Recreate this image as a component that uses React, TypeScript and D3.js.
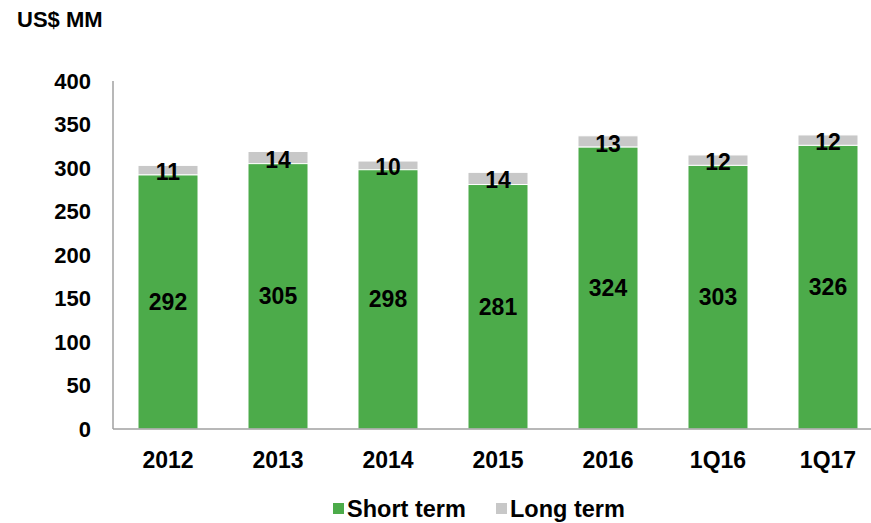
import * as d3 from "d3";
import React, { useEffect, useRef } from "react";

const categories = ["2012", "2013", "2014", "2015", "2016", "1Q16", "1Q17"];
const shortTerm = [292, 305, 298, 281, 324, 303, 326];
const longTerm = [11, 14, 10, 14, 13, 12, 12];
const yTicks = [0, 50, 100, 150, 200, 250, 300, 350, 400];

const GREEN = "#4cab4a";
const GRAY = "#c8c8c8";
const FONT = "'Liberation Sans', Arial, sans-serif";

export default function App() {
  const ref = useRef<SVGSVGElement | null>(null);

  useEffect(() => {
    const svg = d3.select(ref.current);
    svg.selectAll("*").remove();

    const x = d3
      .scaleBand()
      .domain(categories)
      .range([113, 883])
      .paddingInner(0.4545)
      .paddingOuter(0.2273);
    const y = d3.scaleLinear().domain([0, 400]).range([429, 81]);

    // title
    svg
      .append("text")
      .attr("x", 17)
      .attr("y", 27)
      .attr("font-family", FONT)
      .attr("font-weight", "bold")
      .attr("font-size", 22)
      .text("US$ MM");

    // y tick labels
    svg
      .selectAll("text.ytick")
      .data(yTicks)
      .enter()
      .append("text")
      .attr("class", "ytick")
      .attr("x", 91)
      .attr("y", (d) => y(d))
      .attr("dy", "0.35em")
      .attr("text-anchor", "end")
      .attr("font-family", FONT)
      .attr("font-weight", "bold")
      .attr("font-size", 22)
      .text((d) => d);

    const rows = categories.map((c, i) => ({ c, s: shortTerm[i], l: longTerm[i] }));

    // long term (stacked on top)
    svg
      .selectAll("rect.long")
      .data(rows)
      .enter()
      .append("rect")
      .attr("x", (d) => x(d.c)!)
      .attr("width", x.bandwidth())
      .attr("y", (d) => y(d.s + d.l))
      .attr("height", (d) => y(d.s) - y(d.s + d.l))
      .attr("fill", GRAY)
      .attr("stroke", "#fff")
      .attr("stroke-width", 1);

    svg
      .selectAll("rect.short")
      .data(rows)
      .enter()
      .append("rect")
      .attr("x", (d) => x(d.c)!)
      .attr("width", x.bandwidth())
      .attr("y", (d) => y(d.s))
      .attr("height", (d) => y(0) - y(d.s))
      .attr("fill", GREEN)
      .attr("stroke", "#fff")
      .attr("stroke-width", 1);

    // axes lines
    svg
      .append("line")
      .attr("x1", 113)
      .attr("x2", 113)
      .attr("y1", 81)
      .attr("y2", 429)
      .attr("stroke", "#a0a0a0")
      .attr("stroke-width", 1.5);
    svg
      .append("line")
      .attr("x1", 113)
      .attr("x2", 871)
      .attr("y1", 429)
      .attr("y2", 429)
      .attr("stroke", "#a0a0a0")
      .attr("stroke-width", 1.5);

    // value labels
    svg
      .selectAll("text.sv")
      .data(rows)
      .enter()
      .append("text")
      .attr("x", (d) => x(d.c)! + x.bandwidth() / 2)
      .attr("y", (d) => y(d.s / 2))
      .attr("dy", "0.35em")
      .attr("text-anchor", "middle")
      .attr("font-family", FONT)
      .attr("font-weight", "bold")
      .attr("font-size", 23)
      .text((d) => d.s);

    svg
      .selectAll("text.lv")
      .data(rows)
      .enter()
      .append("text")
      .attr("x", (d) => x(d.c)! + x.bandwidth() / 2)
      .attr("y", (d) => y(d.s + d.l / 2) + 2)
      .attr("dy", "0.35em")
      .attr("text-anchor", "middle")
      .attr("font-family", FONT)
      .attr("font-weight", "bold")
      .attr("font-size", 23)
      .text((d) => d.l);

    // category labels
    svg
      .selectAll("text.cat")
      .data(categories)
      .enter()
      .append("text")
      .attr("x", (d) => x(d)! + x.bandwidth() / 2)
      .attr("y", 460)
      .attr("dy", "0.35em")
      .attr("text-anchor", "middle")
      .attr("font-family", FONT)
      .attr("font-weight", "bold")
      .attr("font-size", 23)
      .text((d) => d);

    // legend
    const legend = [
      { label: "Short term", color: GREEN, x: 333 },
      { label: "Long term", color: GRAY, x: 496 },
    ];
    const lg = svg.selectAll("g.lg").data(legend).enter().append("g");
    lg.append("rect")
      .attr("x", (d) => d.x)
      .attr("y", 503)
      .attr("width", 11)
      .attr("height", 11)
      .attr("fill", (d) => d.color);
    lg.append("text")
      .attr("x", (d) => d.x + 14)
      .attr("y", 509)
      .attr("dy", "0.35em")
      .attr("font-family", FONT)
      .attr("font-weight", "bold")
      .attr("font-size", 23.5)
      .text((d) => d.label);
  }, []);

  return (
    <svg
      ref={ref}
      width={871}
      height={523}
      style={{ position: "absolute", left: 0, top: 0, background: "#fff" }}
    />
  );
}
